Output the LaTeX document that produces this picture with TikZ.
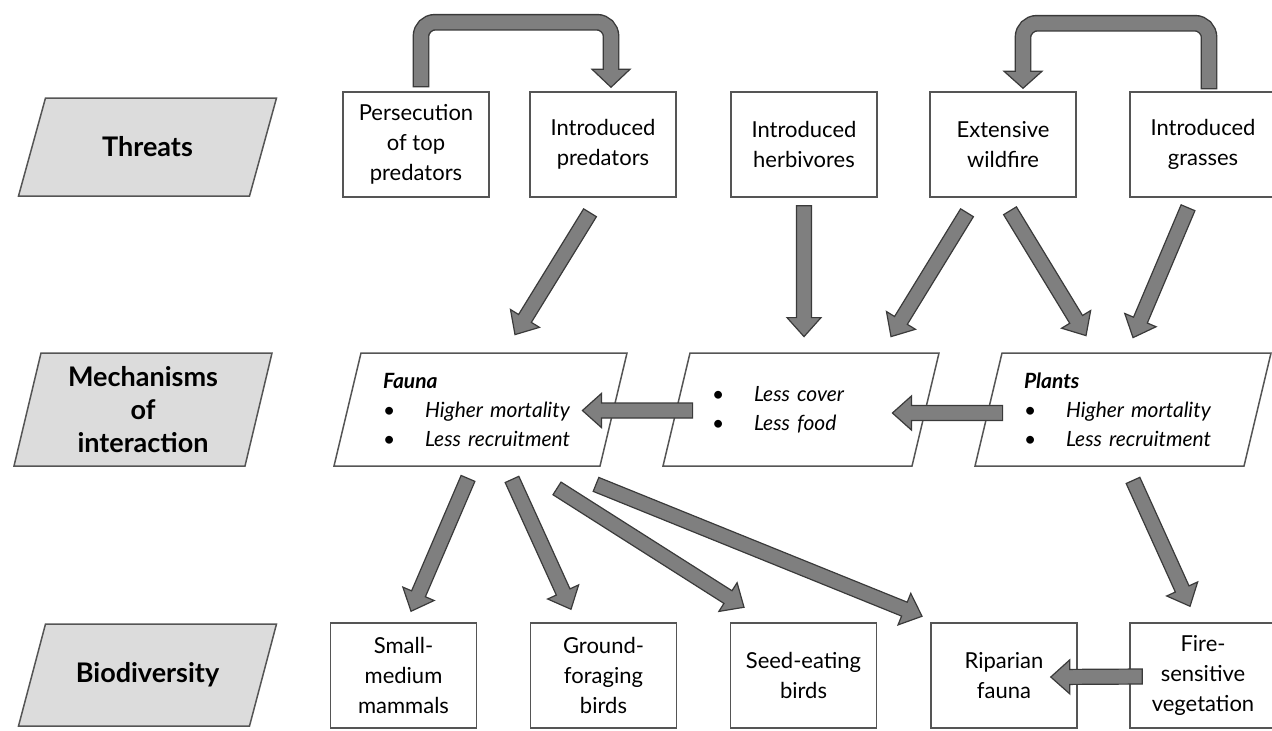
\documentclass[tikz,border=0pt]{standalone}
\usepackage{fontspec}
\setmainfont{Lato}
\usetikzlibrary{calc}

\definecolor{edgegray}{HTML}{555555}
\definecolor{labelgray}{HTML}{DCDCDC}
\definecolor{arrowgray}{HTML}{7F7F7F}
\definecolor{arrowedge}{HTML}{3A3A3A}

\newcommand{\shafthalf}{3.75pt}
\newcommand{\headhalf}{8.5pt}
\newcommand{\headlength}{9.5pt}
\newcommand{\mechitem}[1]{\mbox{\makebox[21pt][l]{\textbullet}\textit{#1}}}

% straight block arrow from tail to tip
\newcommand{\blockarrow}[2]{%
  \coordinate (ba-t) at (#1);
  \coordinate (ba-p) at (#2);
  \coordinate (ba-h) at ($(ba-p)!\headlength!(ba-t)$);
  \draw[arrowbody] ($(ba-t)!\shafthalf!90:(ba-p)$) -- ($(ba-h)!\shafthalf!90:(ba-p)$)
    -- ($(ba-h)!\headhalf!90:(ba-p)$) -- (ba-p) -- ($(ba-h)!\headhalf!-90:(ba-p)$)
    -- ($(ba-h)!\shafthalf!-90:(ba-p)$) -- ($(ba-t)!\shafthalf!-90:(ba-p)$) -- cycle;}

% head only, for the bent arrows
\newcommand{\blockhead}[2]{%
  \draw[arrowbody] ($(#1)!9.5pt!90:(#2)$) -- (#2) -- ($(#1)!9.5pt!-90:(#2)$) -- cycle;}

\tikzset{
  slanted/.style={path picture={
    \draw[draw=edgegray, line width=0.75pt, fill=#1]
      ([xshift=14pt, yshift=-0.5pt]path picture bounding box.north west) --
      ([xshift=-0.5pt, yshift=-0.5pt]path picture bounding box.north east) --
      ([xshift=-14pt, yshift=0.5pt]path picture bounding box.south east) --
      ([xshift=0.5pt, yshift=0.5pt]path picture bounding box.south west) -- cycle;}},
  stage/.style={slanted=labelgray, fill=white, minimum width=130pt, align=center,
    font=\fontsize{13.5}{16.5}\selectfont\bfseries},
  mechbox/.style={slanted=white, fill=white, inner xsep=25pt, minimum height=57.5pt,
    align=left, font=\fontsize{10.5}{14.5}\selectfont},
  item/.style={draw=edgegray, line width=0.75pt, minimum width=73pt, minimum height=52.5pt,
    align=center, font=\fontsize{11}{15}\selectfont},
  arrowbody/.style={fill=arrowgray, draw=arrowedge, line width=0.6pt, line join=miter},
  bentedge/.style={draw=arrowedge, line width=8.4pt, rounded corners=7pt},
  bentfill/.style={draw=arrowgray, line width=7pt, rounded corners=7pt}
}

\begin{document}
\begin{tikzpicture}[x=0.5pt, y=-0.5pt]
    \useasboundingbox (0,0) rectangle (1272,730);

    % row labels
    \node[stage, minimum height=50pt] (threats) at (147.5,147) {Threats};
    \node[stage, minimum height=57.5pt] (mechs) at (143,409.5) {Mechanisms\\of\\interaction};
    \node[stage, minimum height=52pt] (biodiv) at (147.5,675) {Biodiversity};

    % threats
    \node[item] (persec) at (416,144.5) {Persecution\\of top\\predators};
    \node[item] (pred) at (603,144.5) {Introduced\\predators};
    \node[item] (herb) at (804,144.5) {Introduced\\herbivores};
    \node[item] (fire) at (1003,144.5) {Extensive\\wildfire};
    \node[item] (grass) at (1203,144.5) {Introduced\\grasses};

    % mechanisms
    \node[mechbox, text width=97.5pt] (fauna) at (480.5,409.5)
        {\textbf{\textit{Fauna}}\\\mechitem{Higher mortality}\\\mechitem{Less recruitment}};
    \node[mechbox, text width=89pt] (cover) at (801,409.5)
        {\mechitem{Less cover}\\\mechitem{Less food}};
    \node[mechbox, text width=99pt] (plants) at (1123,409.5)
        {\textbf{\textit{Plants}}\\\mechitem{Higher mortality}\\\mechitem{Less recruitment}};

    % biodiversity
    \node[item] (mammals) at (403.5,675.5) {Small-\\medium\\mammals};
    \node[item] (ground) at (603.5,675.5) {Ground-\\foraging\\birds};
    \node[item] (seed) at (803.5,675.5) {Seed-eating\\birds};
    \node[item] (riparian) at (1004,675.5) {Riparian\\fauna};
    \node[item] (firesens) at (1203,675.5) {Fire-\\sensitive\\vegetation};

    % bent arrows on top
    \coordinate (u1-tail) at ($(persec.north)+(5,-4)$);
    \coordinate (u1-tip) at ($(pred.north)+(8,-4)$);
    \draw[bentedge] (u1-tail) -- ++(0,-65) -| ($(u1-tip)+(0,-18)$);
    \blockhead{$(u1-tip)+(0,-18)$}{u1-tip}
    \draw[bentfill] ($(u1-tail)+(0,-1.5)$) -- ++(0,-63.5) -| ($(u1-tip)+(0,-17)$);

    \coordinate (u2-tail) at ($(grass.north)+(6,-2)$);
    \coordinate (u2-tip) at ($(fire.north)+(20,-3)$);
    \draw[bentedge] (u2-tail) -- ++(0,-66) -| ($(u2-tip)+(0,-17)$);
    \blockhead{$(u2-tip)+(0,-17)$}{u2-tip}
    \draw[bentfill] ($(u2-tail)+(0,-1.5)$) -- ++(0,-64.5) -| ($(u2-tip)+(0,-16)$);

    % threats to mechanisms
    \blockarrow{$(pred.south)+(-13,15)$}{$(fauna.north)+(34.5,-17)$}
    \blockarrow{$(herb.south)+(0,8)$}{$(cover.north)+(3,-15)$}
    \blockarrow{$(fire.south)+(-36,15)$}{$(cover.north)+(90,-15)$}
    \blockarrow{$(fire.south)+(7,13)$}{$(plants.north)+(-37,-16)$}
    \blockarrow{$(grass.south)+(-15,10)$}{$(plants.north)+(10,-14)$}

    % between mechanisms
    \blockarrow{$(cover.west)+(31,1)$}{$(fauna.east)+(-46,1)$}
    \blockarrow{$(plants.west)+(29,3.5)$}{$(cover.east)+(-48,3.5)$}

    % mechanisms to biodiversity
    \blockarrow{$(fauna.south)+(-12.5,11)$}{$(mammals.north)+(7.5,-11)$}
    \blockarrow{$(fauna.south)+(31.5,12)$}{$(ground.north)+(-32.5,-13)$}
    \blockarrow{$(fauna.south)+(76.5,21)$}{$(seed.north)+(-59.5,-15)$}
    \blockarrow{$(fauna.south)+(115.5,17)$}{$(riparian.north)+(-82,-6)$}
    \blockarrow{$(plants.south)+(10,13)$}{$(firesens.north)+(-13,-16)$}
    \blockarrow{$(firesens.west)+(13,1)$}{$(riparian.east)+(-27,1.5)$}
\end{tikzpicture}
\end{document}
